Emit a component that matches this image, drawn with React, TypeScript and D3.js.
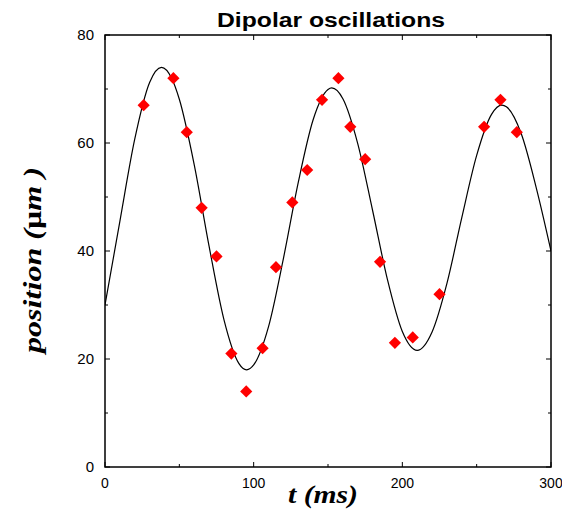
import React from "react";
import * as d3 from "d3";

const dataT = [26, 46, 55, 65, 75, 85, 95, 106, 115, 126, 136, 146, 157, 165, 175, 185, 195, 207, 225, 255, 266, 277];
const dataV = [67, 72, 62, 48, 39, 21, 14, 22, 37, 49, 55, 68, 72, 63, 57, 38, 23, 24, 32, 63, 68, 62];

const fitT = [0, 10, 20, 30, 38, 45, 50, 60, 70, 80, 90, 95.3, 100, 110, 120, 130, 140, 150, 152.5, 160, 170, 180, 190, 200, 210, 220, 230, 240, 250, 260, 267, 270, 280, 290, 300];
const fitV = [30, 45.5, 60.7, 71.2, 74, 71.9, 68.1, 56.0, 40.9, 27.3, 19.2, 18, 18.9, 26.0, 38.6, 52.7, 64.3, 69.9, 70.2, 68.2, 59.9, 47.5, 34.7, 25.1, 21.6, 25.0, 34.0, 46.2, 57.7, 65.3, 67, 66.7, 61.7, 51.8, 40];

const xMajor = [0, 100, 200, 300];
const xMinor = [50, 150, 250];
const yMajor = [0, 20, 40, 60, 80];
const yMinor = [10, 30, 50, 70];

const W = 562, H = 512;
const L = 105, R = 551, T = 35, B = 467;

export default function App() {
  const x = d3.scaleLinear().domain([0, 300]).range([L, R]);
  const y = d3.scaleLinear().domain([0, 80]).range([B, T]);
  const line = d3
    .line<number>()
    .x((_, i) => x(fitT[i]))
    .y((d) => y(d))
    .curve(d3.curveMonotoneX);
  const diamond = d3.symbol(d3.symbolDiamond2, 95)();
  const sans = "'Liberation Sans', Arial, sans-serif";
  const serif = "'Liberation Serif', 'Times New Roman', serif";
  return (
    <svg width={W} height={H} style={{ position: "absolute", left: 0, top: 0, background: "#fff" }}>
      <defs>
        <clipPath id="clip">
          <rect x={L} y={T} width={R - L} height={B - T} />
        </clipPath>
      </defs>
      <text x={331} y={27} textAnchor="middle" fontFamily={sans} fontWeight="bold" fontSize={20}
        textLength={228} lengthAdjust="spacingAndGlyphs">Dipolar oscillations</text>
      <g stroke="#000" strokeWidth={1}>
        {xMajor.map((t) => (
          <g key={"xM" + t}>
            <line x1={x(t)} x2={x(t)} y1={B} y2={B - 5} />
            <line x1={x(t)} x2={x(t)} y1={T} y2={T + 5} />
          </g>
        ))}
        {xMinor.map((t) => (
          <g key={"xm" + t}>
            <line x1={x(t)} x2={x(t)} y1={B} y2={B - 3} />
            <line x1={x(t)} x2={x(t)} y1={T} y2={T + 3} />
          </g>
        ))}
        {yMajor.map((v) => (
          <g key={"yM" + v}>
            <line x1={L} x2={L + 5} y1={y(v)} y2={y(v)} />
            <line x1={R} x2={R - 5} y1={y(v)} y2={y(v)} />
          </g>
        ))}
        {yMinor.map((v) => (
          <g key={"ym" + v}>
            <line x1={L} x2={L + 3} y1={y(v)} y2={y(v)} />
            <line x1={R} x2={R - 3} y1={y(v)} y2={y(v)} />
          </g>
        ))}
      </g>
      <rect x={L} y={T} width={R - L} height={B - T} fill="none" stroke="#000" strokeWidth={1.5} />
      {xMajor.map((t) => (
        <text key={"xl" + t} x={x(t)} y={488} textAnchor="middle" fontFamily={sans} fontSize={14}>{t}</text>
      ))}
      {yMajor.map((v) => (
        <text key={"yl" + v} x={94} y={y(v) + 5} textAnchor="end" fontFamily={sans} fontSize={15}>{v}</text>
      ))}
      <g clipPath="url(#clip)">
        <path d={line(fitV) || ""} fill="none" stroke="#000" strokeWidth={1.2} />
      </g>
      {dataV.map((v, i) => (
        <path key={"p" + i} d={diamond || ""} transform={`translate(${x(dataT[i])},${y(v)})`} fill="#ff0000" />
      ))}
      <text x={323} y={503} textAnchor="middle" fontFamily={serif} fontWeight="bold" fontStyle="italic" fontSize={26}
        textLength={70} lengthAdjust="spacingAndGlyphs">t (ms)</text>
      <text transform={`translate(41,260) rotate(-90)`} textAnchor="middle" fontFamily={serif} fontWeight="bold" fontSize={26}
        textLength={186} lengthAdjust="spacingAndGlyphs">
        <tspan fontStyle="italic">position (</tspan>
        <tspan>μ</tspan>
        <tspan fontStyle="italic">m )</tspan>
      </text>
    </svg>
  );
}
